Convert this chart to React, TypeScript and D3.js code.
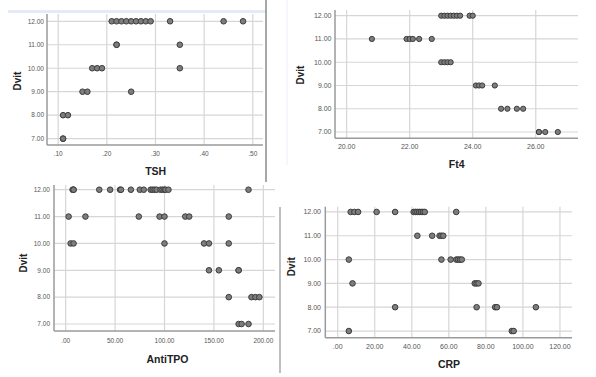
import React from "react";
import * as d3 from "d3";

// ---------- DATA ----------
const dvitLevels = [7, 8, 9, 10, 11, 12];

const tshX = [0.21, 0.22, 0.23, 0.24, 0.25, 0.26, 0.27, 0.28, 0.29, 0.33, 0.44, 0.48, 0.22, 0.22, 0.35, 0.17, 0.18, 0.19, 0.35, 0.15, 0.16, 0.25, 0.11, 0.12, 0.11, 0.11];
const tshY = [12, 12, 12, 12, 12, 12, 12, 12, 12, 12, 12, 12, 11, 11, 11, 10, 10, 10, 10, 9, 9, 9, 8, 8, 7, 7];
const tshTicks = [0.1, 0.2, 0.3, 0.4, 0.5];

const ft4X = [23.0, 23.1, 23.2, 23.3, 23.4, 23.5, 23.6, 23.9, 24.0, 20.8, 21.9, 22.0, 22.1, 22.3, 22.7, 23.0, 23.1, 23.2, 23.3, 24.1, 24.2, 24.3, 24.7, 24.9, 25.1, 25.4, 25.6, 26.1, 26.1, 26.3, 26.7];
const ft4Y = [12, 12, 12, 12, 12, 12, 12, 12, 12, 11, 11, 11, 11, 11, 11, 10, 10, 10, 10, 9, 9, 9, 9, 8, 8, 8, 8, 7, 7, 7, 7];
const ft4Ticks = [20, 22, 24, 26];

const tpoX = [7, 8, 8, 34, 45, 55, 56, 66, 75, 79, 86, 88, 90, 92, 96, 98, 100, 101, 104, 185, 3, 20, 74, 95, 100, 121, 125, 165, 5, 8, 100, 140, 145, 165, 145, 155, 175, 175, 165, 188, 192, 196, 175, 178, 185];
const tpoY = [12, 12, 12, 12, 12, 12, 12, 12, 12, 12, 12, 12, 12, 12, 12, 12, 12, 12, 12, 12, 11, 11, 11, 11, 11, 11, 11, 11, 10, 10, 10, 10, 10, 10, 9, 9, 9, 9, 8, 8, 8, 8, 7, 7, 7];
const tpoTicks = [0, 50, 100, 150, 200];

const crpX = [7, 9, 11, 21, 31, 41, 42, 43, 44, 45, 46, 47, 64, 43, 51, 55, 56, 57, 6, 56, 61, 64, 65, 66, 67, 8, 74, 75, 76, 31, 75, 85, 86, 107, 6, 94, 95];
const crpY = [12, 12, 12, 12, 12, 12, 12, 12, 12, 12, 12, 12, 12, 11, 11, 11, 11, 11, 10, 10, 10, 10, 10, 10, 10, 9, 9, 9, 9, 8, 8, 8, 8, 8, 7, 7, 7];
const crpTicks = [0, 20, 40, 60, 80, 100, 120];

const yTitle = "Dvit";

// ---------- LAYOUT ----------
type Panel = {
  xs: number[]; ys: number[]; xTicks: number[]; title: string;
  x0: number; x1: number; y0: number; y1: number;
  xDom: [number, number]; yDom: [number, number];
  tickSize: number; xTickBase: number; yLabRight: number;
  dvitX: number; dvitY: number; titleX: number; titleY: number; r: number;
};

const panels: Panel[] = [
  { xs: tshX, ys: tshY, xTicks: tshTicks, title: "TSH",
    x0: 47, x1: 263, y0: 14, y1: 145, xDom: [0.077, 0.521], yDom: [6.73, 12.31],
    tickSize: 6.5, xTickBase: 155.5, yLabRight: 44, dvitX: 17, dvitY: 81, titleX: 155.7, titleY: 174.5, r: 2.8 },
  { xs: ft4X, ys: ft4Y, xTicks: ft4Ticks, title: "Ft4",
    x0: 335, x1: 578, y0: 10, y1: 138.3, xDom: [19.63, 27.34], yDom: [6.73, 12.245],
    tickSize: 7, xTickBase: 149, yLabRight: 331.5, dvitX: 300.7, dvitY: 75, titleX: 456.7, titleY: 167.5, r: 2.6 },
  { xs: tpoX, ys: tpoY, xTicks: tpoTicks, title: "AntiTPO",
    x0: 54, x1: 275, y0: 185, y1: 331, xDom: [-11.8, 211.8], yDom: [6.74, 12.175],
    tickSize: 6.5, xTickBase: 342.7, yLabRight: 50, dvitX: 23.3, dvitY: 263, titleX: 167.5, titleY: 363, r: 2.8 },
  { xs: crpX, ys: crpY, xTicks: crpTicks, title: "CRP",
    x0: 325.3, x1: 572, y0: 206.7, y1: 337.7, xDom: [-6.7, 126.5], yDom: [6.72, 12.22],
    tickSize: 7, xTickBase: 349, yLabRight: 321, dvitX: 291, dvitY: 266.7, titleX: 449, titleY: 368, r: 2.8 },
];

const fmt = (v: number) => d3.format(".2f")(v).replace(/^0\./, ".");
const FONT = "'Liberation Sans', Arial, sans-serif";

function ScatterPanel({ p }: { p: Panel }) {
  const x = d3.scaleLinear().domain(p.xDom).range([p.x0, p.x1]);
  const y = d3.scaleLinear().domain(p.yDom).range([p.y1, p.y0]);
  return (
    <g>
      {dvitLevels.map((v) => (
        <line key={"h" + v} x1={p.x0} x2={p.x1} y1={y(v)} y2={y(v)} stroke="#d6d6d6" strokeWidth={1.2} />
      ))}
      {p.xTicks.map((v) => (
        <line key={"v" + v} x1={x(v)} x2={x(v)} y1={p.y0} y2={p.y1} stroke="#d6d6d6" strokeWidth={1.2} />
      ))}
      <line x1={p.x0} x2={p.x0} y1={p.y0} y2={p.y1} stroke="#9a9a9a" strokeWidth={1.5} />
      <line x1={p.x0} x2={p.x1} y1={p.y1} y2={p.y1} stroke="#9a9a9a" strokeWidth={1.5} />
      {dvitLevels.map((v) => (
        <text key={"yl" + v} x={p.yLabRight} y={y(v)} dy="0.35em" textAnchor="end"
          fontSize={p.tickSize} fill="#555" fontFamily={FONT}>{fmt(v)}</text>
      ))}
      {p.xTicks.map((v) => (
        <text key={"xl" + v} x={x(v)} y={p.xTickBase} textAnchor="middle"
          fontSize={p.tickSize} fill="#555" fontFamily={FONT}>{fmt(v)}</text>
      ))}
      {p.xs.map((xv, i) => (
        <circle key={"c" + i} cx={x(xv)} cy={y(p.ys[i])} r={p.r} fill="#7d7d7d" stroke="#3c3c3c" strokeWidth={1} />
      ))}
      <text x={p.titleX} y={p.titleY} textAnchor="middle" fontSize={10.5} fontWeight="bold"
        fill="#222" fontFamily={FONT}>{p.title}</text>
      <text transform={`translate(${p.dvitX},${p.dvitY}) rotate(-90)`} dy="0.35em" textAnchor="middle"
        fontSize={10} fontWeight="bold" fill="#222" fontFamily={FONT}>{yTitle}</text>
    </g>
  );
}

export default function App() {
  return (
    <svg width={596} height={377} style={{ position: "absolute", left: 0, top: 0, background: "#fff" }}>
      <rect x={0} y={0} width={596} height={377} fill="#fff" />
      <rect x={8} y={10} width={258} height={3} fill="#e4ebf6" />
      <line x1={287} x2={287} y1={0} y2={165} stroke="#eaf0f8" strokeWidth={1} />
      <line x1={266} x2={266} y1={0} y2={182} stroke="#8a8a8a" strokeWidth={1.5} />
      <line x1={280} x2={280} y1={207} y2={373} stroke="#aaaaaa" strokeWidth={1.5} />
      {panels.map((p) => (
        <ScatterPanel key={p.title} p={p} />
      ))}
    </svg>
  );
}
